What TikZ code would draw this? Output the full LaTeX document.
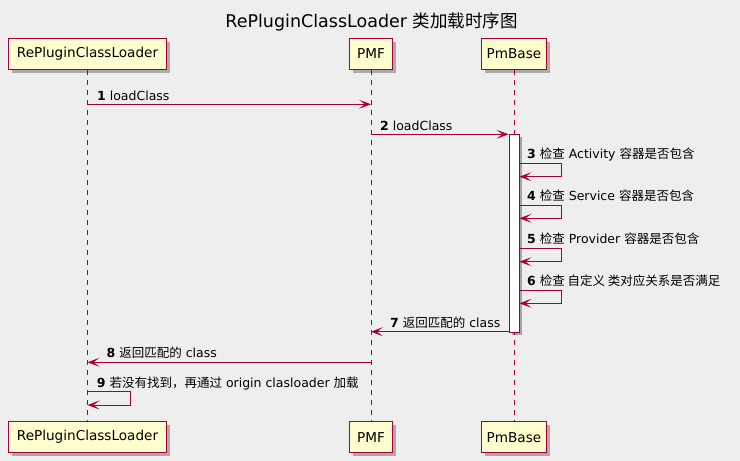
\documentclass[tikz,border=0pt]{standalone}
\usepackage{fontspec}
\setmainfont{DejaVu Sans}
\newfontfamily\cjk{Noto Sans CJK SC}
\usetikzlibrary{arrows.meta,shadows}
\definecolor{pu}{HTML}{A80036}
\definecolor{bgc}{HTML}{EEEEEE}
\definecolor{pbox}{HTML}{FEFECE}
\begin{document}
\begin{tikzpicture}[x=1pt,y=-1pt,
  participant/.style={draw=pu, fill=pbox, line width=1.1pt, minimum height=31pt, inner sep=0pt,
    font=\fontsize{13.6}{16}\selectfont,
    drop shadow={shadow xshift=3.5pt, shadow yshift=-3.5pt, fill=black, opacity=0.28}},
  lifeline/.style={draw=pu, line width=0.9pt, dash pattern=on 5pt off 5pt},
  actbar/.style={draw=pu, fill=white, line width=1pt, minimum width=10pt, inner sep=0pt,
    drop shadow={shadow xshift=3pt, shadow yshift=-3pt, fill=black, opacity=0.3}},
  msg/.style={draw=pu, line width=0.9pt, -{Stealth[length=12pt,width=9pt,inset=6pt]}},
  lbl/.style={anchor=base west, inner sep=0pt, font=\fontsize{12.5}{15}\selectfont},
  ttl/.style={anchor=base, inner sep=0pt, font=\fontsize{17.5}{20}\selectfont}
]
\fill[bgc] (0,0) rectangle (740,461);
\useasboundingbox (0,0) rectangle (740,461);

\node[ttl] (title) at (371.5,27) {RePluginClassLoader {\cjk 类加载时序图}};

% participants
\node[participant, minimum width=158pt] (rcl) at (87.5,53.8) {RePluginClassLoader};
\node[participant, minimum width=43pt] (pmf) at (371,53.8) {PMF};
\node[participant, minimum width=65pt] (pmb) at (514,53.8) {PmBase};
\node[participant, minimum width=158pt] (rclb) at (87.5,437.2) {RePluginClassLoader};
\node[participant, minimum width=43pt] (pmfb) at (371,437.2) {PMF};
\node[participant, minimum width=65pt] (pmbb) at (514,437.2) {PmBase};

% lifelines
\draw[lifeline] (rcl.south) -- (rclb.north);
\draw[lifeline] (pmf.south) -- (pmfb.north);
\draw[lifeline] (pmb.south) -- (pmbb.north);

% activation bar
\node[actbar, minimum height=198pt] (act) at (514,233.3) {};

% 1
\draw[msg] (rcl.south |- 0,104.3) -- (pmf.south |- 0,104.3);
\node[lbl] (l1) at (97,100) {\textbf{1} loadClass};
% 2
\draw[msg] (pmf.south |- 0,134.3) -- (act.west |- 0,134.3);
\node[lbl] (l2) at (380,130) {\textbf{2} loadClass};
% 3
\draw[msg] (act.east |- 0,163.3) -- (561.7,163.3) -- (561.7,176.7) -- (act.east |- 0,176.7);
\node[lbl] (l3) at (527,158.5) {\textbf{3} {\cjk 检查} Activity {\cjk 容器是否包含}};
% 4
\draw[msg] (act.east |- 0,205.7) -- (561.7,205.7) -- (561.7,218.3) -- (act.east |- 0,218.3);
\node[lbl] (l4) at (527,200.8) {\textbf{4} {\cjk 检查} Service {\cjk 容器是否包含}};
% 5
\draw[msg] (act.east |- 0,248.3) -- (561.7,248.3) -- (561.7,261.7) -- (act.east |- 0,261.7);
\node[lbl] (l5) at (527,243) {\textbf{5} {\cjk 检查} Provider {\cjk 容器是否包含}};
% 6
\draw[msg] (act.east |- 0,290.7) -- (561.7,290.7) -- (561.7,303.3) -- (act.east |- 0,303.3);
\node[lbl] (l6) at (527,285.8) {\textbf{6} {\cjk 检查 自定义 类对应关系是否满足}};
% 7
\draw[msg] (act.west |- 0,331.7) -- (pmf.south |- 0,331.7);
\node[lbl] (l7) at (390,327) {\textbf{7} {\cjk 返回匹配的} class};
% 8
\draw[msg] (pmf.south |- 0,362.3) -- (rcl.south |- 0,362.3);
\node[lbl] (l8) at (106.5,357) {\textbf{8} {\cjk 返回匹配的} class};
% 9
\draw[msg] (rcl.south |- 0,391.7) -- (130.3,391.7) -- (130.3,405) -- (rcl.south |- 0,405);
\node[lbl] (l9) at (96.7,387) {\textbf{9} {\cjk 若没有找到，再通过} origin clasloader {\cjk 加载}};
\end{tikzpicture}
\end{document}
